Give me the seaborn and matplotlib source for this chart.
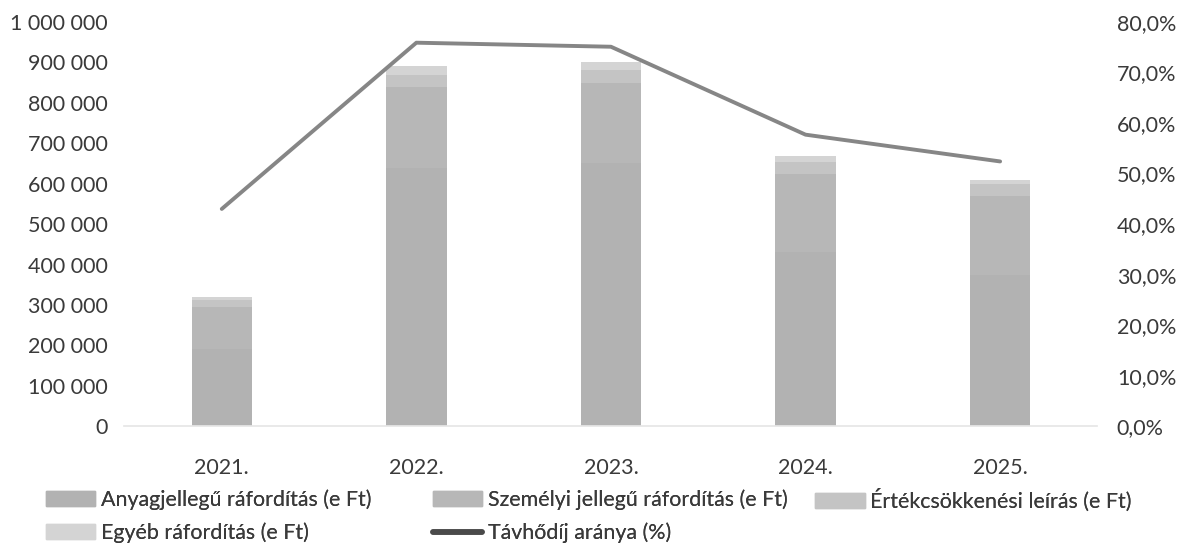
"""tavhodij koltsegek es arany, 2021-2025 - halmozott oszlop + vonal."""

import matplotlib
matplotlib.use("Agg")
import matplotlib.pyplot as plt
import matplotlib.ticker as mticker
from matplotlib.patches import Patch
from matplotlib.lines import Line2D
import numpy as np
import pandas as pd
import seaborn as sns

years = ["2021.", "2022.", "2023.", "2024.", "2025."]
anyag = [190000, 640000, 650000, 430000, 375000]
szemelyi = [105000, 200000, 200000, 195000, 195000]
ertekcs = [18000, 30000, 30000, 28000, 28000]
egyeb = [7000, 22000, 20000, 15000, 12000]
tavhodij_pct = [43.0, 75.9, 75.1, 57.7, 52.4]

series_names = [
    "Anyagjellegű ráfordítás (e Ft)",
    "Személyi jellegű ráfordítás (e Ft)",
    "Értékcsökkenési leírás (e Ft)",
    "Egyéb ráfordítás (e Ft)",
]
line_name = "Távhődíj aránya (%)"
colors = ["#b2b2b2", "#b7b7b7", "#c4c4c4", "#d4d4d4"]
line_color = "#868686"
text_color = "#3a3a3a"
fs = 15.5
fs_leg = 15.4

sns.set_theme(style="white")
plt.rcParams["font.family"] = ["Lato", "DejaVu Sans"]

df = pd.DataFrame(
    {"ev": years, series_names[0]: anyag, series_names[1]: szemelyi,
     series_names[2]: ertekcs, series_names[3]: egyeb}
)
cum = df[series_names].cumsum(axis=1)

fig = plt.figure(figsize=(11.8, 5.44), dpi=100)
ax = fig.add_axes([0.1055, 0.2165, 0.8245, 0.7431])

# felulrol lefele rajzolva, hogy a halmozas latszodjon
for name, color in reversed(list(zip(series_names, colors))):
    sns.barplot(x=df["ev"], y=cum[name], color=color, width=0.31,
                saturation=1, ax=ax, linewidth=0)

ax.set_ylim(0, 1000000)
ax.set_xlim(-0.5, len(years) - 0.5)
ax.yaxis.set_major_locator(mticker.MultipleLocator(100000))
ax.yaxis.set_major_formatter(
    mticker.FuncFormatter(lambda v, p: f"{int(v):,}".replace(",", " "))
)
ax.set_xlabel("")
ax.set_ylabel("")
ax.tick_params(axis="both", labelsize=fs, colors=text_color, length=0)
ax.tick_params(axis="y", pad=12)
ax.tick_params(axis="x", pad=23)
for s in ["top", "right", "left"]:
    ax.spines[s].set_visible(False)
ax.spines["bottom"].set_color("#e6e6e6")

ax2 = ax.twinx()
sns.lineplot(x=np.arange(len(years)), y=tavhodij_pct, ax=ax2,
             color=line_color, linewidth=2.8)
ax2.set_ylim(0, 80)
ax2.yaxis.set_major_locator(mticker.MultipleLocator(10))
ax2.yaxis.set_major_formatter(
    mticker.FuncFormatter(lambda v, p: f"{v:.1f}%".replace(".", ","))
)
ax2.tick_params(axis="y", labelsize=fs, colors=text_color, length=0, pad=14)
for s in ax2.spines.values():
    s.set_visible(False)
ax2.set_xlim(-0.5, len(years) - 0.5)

# jelmagyarazat: harom oszlop, kezzel elhelyezve
handles = [Patch(color=c) for c in colors]
line_handle = Line2D([0], [0], color="#4a4a4a", linewidth=4)
columns = [
    ([handles[0], handles[3]], [series_names[0], series_names[3]], 0.039),
    ([handles[1], line_handle], [series_names[1], line_name], 0.367),
    ([handles[2]], [series_names[2]], 0.691),
]
for h, l, x0 in columns:
    leg = fig.legend(h, l, loc="upper left", bbox_to_anchor=(x0, 0.101),
                     frameon=False, fontsize=fs_leg, labelcolor=text_color,
                     handlelength=2.3, handleheight=0.7, handletextpad=0.25,
                     labelspacing=0.6, borderpad=0, borderaxespad=0)
    fig.add_artist(leg)

fig.savefig("out.png", dpi=100)
